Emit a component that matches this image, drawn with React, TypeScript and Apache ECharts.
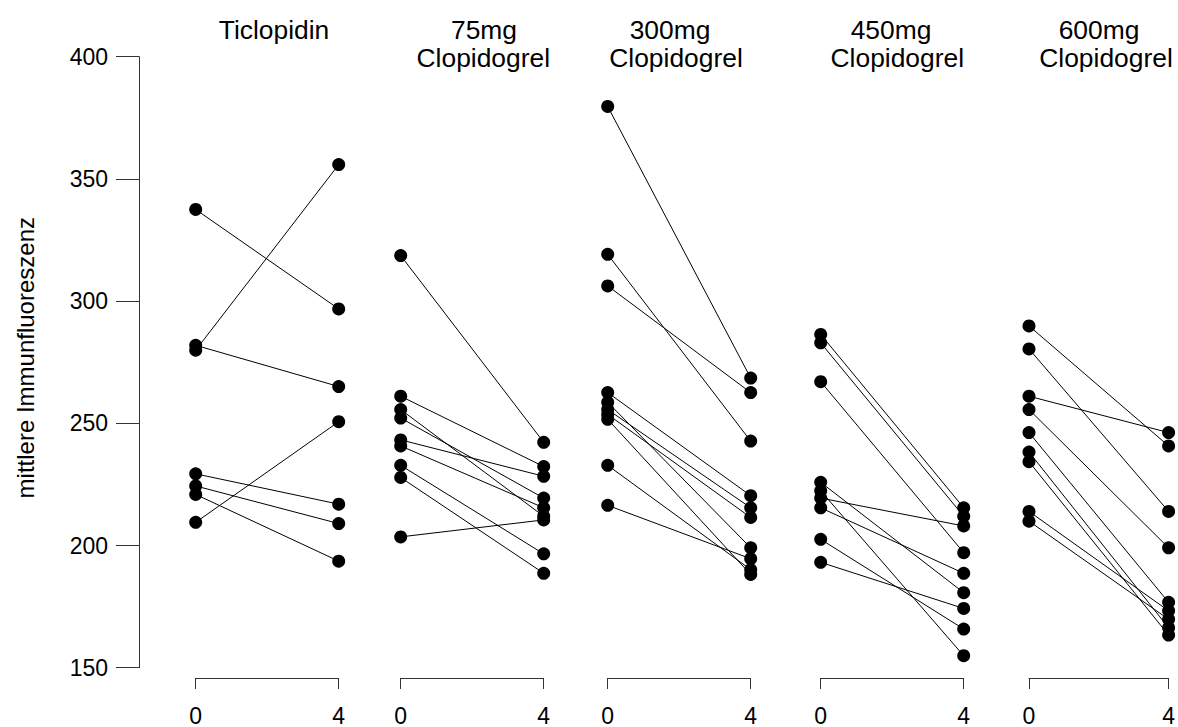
import React, { useEffect, useRef } from "react";
import * as echarts from "echarts";

// ---- Data ----
const X_TICKS = [0, 4];
const Y_MIN = 150;
const Y_MAX = 400;
const Y_STEP = 50;
const Y_TITLE = "mittlere Immunfluoreszenz";

const TITLE_LINE1 = ["Ticlopidin", "75mg", "300mg", "450mg", "600mg"];
const TITLE_LINE2 = ["", "Clopidogrel", "Clopidogrel", "Clopidogrel", "Clopidogrel"];

// paired values: week 0 (before) -> week 4 (after)
const TICLO_BEFORE = [337, 281, 279, 228, 223, 219.5, 208];
const TICLO_AFTER = [296, 264, 355.5, 215.5, 207.5, 192, 249.5];

const C75_BEFORE = [318, 260, 254.5, 251, 242, 239.5, 231.5, 226.5, 202];
const C75_AFTER = [241, 231, 210.5, 218, 227, 214, 195, 187, 209];

const C300_BEFORE = [379.5, 318.5, 305.5, 261.5, 257.5, 254.5, 252.5, 250.5, 231.5, 215];
const C300_AFTER = [267.5, 241.5, 261.5, 219, 197.5, 214, 210, 186.5, 188.5, 193];

const C450_BEFORE = [285.5, 282, 266, 224.5, 221, 218, 214, 201, 191.5];
const C450_AFTER = [214, 210.5, 195.5, 179, 153, 206.5, 187, 164, 172.5];

const C600_BEFORE = [289, 279.5, 260, 254.5, 245, 237, 233, 212.5, 208.5];
const C600_AFTER = [239.5, 212.5, 245, 197.5, 175, 164.5, 161.5, 171.5, 168];

const PANELS = [
  { before: TICLO_BEFORE, after: TICLO_AFTER },
  { before: C75_BEFORE, after: C75_AFTER },
  { before: C300_BEFORE, after: C300_AFTER },
  { before: C450_BEFORE, after: C450_AFTER },
  { before: C600_BEFORE, after: C600_AFTER },
];

// ---- Layout ----
const PANEL_LEFT = [195.7, 400.7, 607.7, 820.7, 1029];
const PANEL_WIDTH = 143;
const GRID_TOP = 56.7;
const GRID_HEIGHT = 611;
const YAXIS_X = 139;
const TITLE1_X = [274, 484, 670, 891, 1099];
const TITLE2_X = [0, 483.3, 676, 897.3, 1106];
const FONT = "'Liberation Sans', Arial, Helvetica, sans-serif";

export default function App() {
  const ref = useRef<HTMLDivElement>(null);

  useEffect(() => {
    if (!ref.current) return;
    const chart = echarts.init(ref.current, undefined, { renderer: "svg" });

    const grid: any[] = PANEL_LEFT.map((l) => ({
      left: l,
      top: GRID_TOP,
      width: PANEL_WIDTH,
      height: GRID_HEIGHT,
    }));
    // separate grid that only carries the shared y axis
    grid.push({ left: YAXIS_X, top: GRID_TOP, width: 10, height: GRID_HEIGHT });

    const xAxis: any[] = PANEL_LEFT.map((_, i) => ({
      type: "value",
      gridIndex: i,
      min: X_TICKS[0],
      max: X_TICKS[X_TICKS.length - 1],
      interval: X_TICKS[1] - X_TICKS[0],
      offset: 15,
      axisLine: { show: true, lineStyle: { color: "#333", width: 1 } },
      axisTick: { show: true, length: 11, lineStyle: { color: "#333", width: 1 } },
      axisLabel: { color: "#000", fontSize: 23, fontFamily: FONT, margin: 26 },
      splitLine: { show: false },
    }));
    xAxis.push({ type: "value", gridIndex: 5, show: false, min: 0, max: 1 });

    const yAxis: any[] = PANEL_LEFT.map((_, i) => ({
      type: "value",
      gridIndex: i,
      min: Y_MIN,
      max: Y_MAX,
      interval: Y_STEP,
      show: false,
    }));
    yAxis.push({
      type: "value",
      gridIndex: 5,
      min: Y_MIN,
      max: Y_MAX,
      interval: Y_STEP,
      show: true,
      name: Y_TITLE,
      nameLocation: "middle",
      nameRotate: 90,
      nameGap: 102,
      nameTextStyle: { color: "#000", fontSize: 24, fontFamily: FONT, padding: [0, 0, 0, 9] },
      axisLine: { show: true, lineStyle: { color: "#333", width: 1 } },
      axisTick: { show: true, length: 23, lineStyle: { color: "#333", width: 1 } },
      axisLabel: { color: "#000", fontSize: 23, fontFamily: FONT, margin: 31 },
      splitLine: { show: false },
    });

    const series: any[] = [];
    PANELS.forEach((p, pi) => {
      p.before.forEach((b, k) => {
        series.push({
          type: "line",
          xAxisIndex: pi,
          yAxisIndex: pi,
          data: [
            [X_TICKS[0], b],
            [X_TICKS[1], p.after[k]],
          ],
          symbol: "circle",
          symbolSize: 13,
          showSymbol: true,
          silent: true,
          lineStyle: { color: "#000", width: 1 },
          itemStyle: { color: "#000" },
        });
      });
    });

    const title: any[] = [];
    TITLE_LINE1.forEach((t, i) => {
      title.push({
        text: t,
        left: TITLE1_X[i],
        top: 17.3,
        padding: 0,
        textAlign: "center",
        textStyle: { color: "#000", fontSize: 26.4, fontWeight: "normal", fontFamily: FONT, lineHeight: 26 },
      });
      if (TITLE_LINE2[i]) {
        title.push({
          text: TITLE_LINE2[i],
          left: TITLE2_X[i],
          top: 44.5,
          padding: 0,
          textAlign: "center",
          textStyle: { color: "#000", fontSize: 26.4, fontWeight: "normal", fontFamily: FONT, lineHeight: 26 },
        });
      }
    });

    chart.setOption({
      animation: false,
      backgroundColor: "#fff",
      title,
      grid,
      xAxis,
      yAxis,
      series,
    });

    return () => chart.dispose();
  }, []);

  return (
    <div
      ref={ref}
      style={{ position: "absolute", left: 0, top: 0, width: 1178, height: 727 }}
    />
  );
}
